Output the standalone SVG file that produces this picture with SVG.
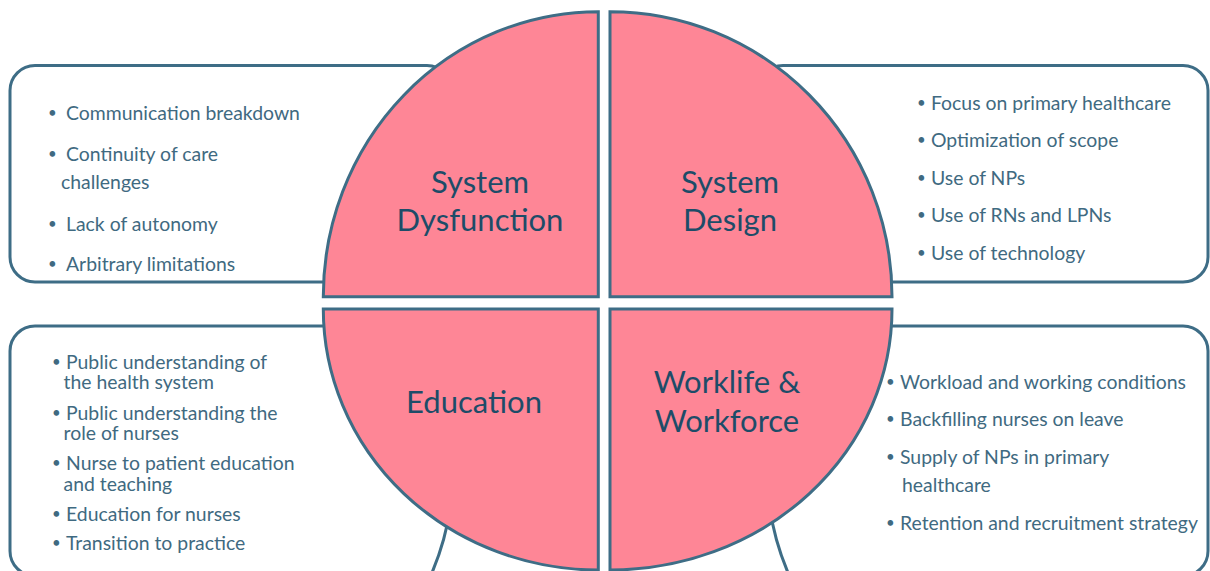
<svg xmlns="http://www.w3.org/2000/svg" width="1210" height="571" viewBox="0 0 1210 571">
  <style>
    .box { fill: #ffffff; stroke: #3e6d86; stroke-width: 3; }
    .quad { fill: #fe8696; stroke: #3e6d86; stroke-width: 3; stroke-linejoin: miter; }
    .title { font-family: Lato, "Liberation Sans", sans-serif; font-size: 31px; fill: #1d4c68; text-anchor: middle; }
    .item { font-family: Lato, "Liberation Sans", sans-serif; font-size: 19.4px; fill: #3f6a81; }
    .dot { font-family: Lato, "Liberation Sans", sans-serif; font-size: 15px; fill: #3f6a81; }
  </style>

  <!-- side panels, drawn first so the circle overlaps them -->
  <g id="panel-dysfunction">
    <rect class="box" x="10" y="65.5" width="442" height="216.5" rx="25" ry="25"/>
    <text class="dot" x="48" y="118">•</text>
    <text class="item" x="66" y="120">Communication breakdown</text>
    <text class="dot" x="48" y="159">•</text>
    <text class="item" x="66" y="161">Continuity of care</text>
    <text class="item" x="61" y="189">challenges</text>
    <text class="dot" x="48" y="229">•</text>
    <text class="item" x="66" y="231">Lack of autonomy</text>
    <text class="dot" x="48" y="269">•</text>
    <text class="item" x="66" y="271">Arbitrary limitations</text>
  </g>

  <g id="panel-design">
    <rect class="box" x="758" y="65.5" width="450" height="216.5" rx="25" ry="25"/>
    <text class="dot" x="917" y="107.5">•</text>
    <text class="item" x="931" y="109.5">Focus on primary healthcare</text>
    <text class="dot" x="917" y="145">•</text>
    <text class="item" x="931" y="147">Optimization of scope</text>
    <text class="dot" x="917" y="182.5">•</text>
    <text class="item" x="931" y="184.5">Use of NPs</text>
    <text class="dot" x="917" y="220">•</text>
    <text class="item" x="931" y="222">Use of RNs and LPNs</text>
    <text class="dot" x="917" y="257.5">•</text>
    <text class="item" x="931" y="259.5">Use of technology</text>
  </g>

  <g id="panel-education">
    <path class="box" d="M 10 351 A 25 25 0 0 1 35 326 H 452 V 470 Q 454 530 424 590 L 424 600 L 35 600 L 35 576 A 25 25 0 0 1 10 551 Z"/>
    <text class="dot" x="52" y="366.5">•</text>
    <text class="item" x="66" y="368.5">Public understanding of</text>
    <text class="item" x="63.5" y="389">the health system</text>
    <text class="dot" x="52" y="417.5">•</text>
    <text class="item" x="66" y="419.5">Public understanding the</text>
    <text class="item" x="63.5" y="439.5">role of nurses</text>
    <text class="dot" x="52" y="468">•</text>
    <text class="item" x="66" y="470">Nurse to patient education</text>
    <text class="item" x="63.5" y="490.5">and teaching</text>
    <text class="dot" x="52" y="518.5">•</text>
    <text class="item" x="66" y="520.5">Education for nurses</text>
    <text class="dot" x="52" y="547.5">•</text>
    <text class="item" x="66" y="549.5">Transition to practice</text>
  </g>

  <g id="panel-workforce">
    <path class="box" d="M 768 470 V 326 H 1183 A 25 25 0 0 1 1208 351 V 551 A 25 25 0 0 1 1183 576 L 1183 600 L 796 600 L 796 590 Q 766 530 768 470 Z"/>
    <text class="dot" x="886" y="386.5">•</text>
    <text class="item" x="900" y="388.5">Workload and working conditions</text>
    <text class="dot" x="886" y="424">•</text>
    <text class="item" x="900" y="426">Backfilling nurses on leave</text>
    <text class="dot" x="886" y="462">•</text>
    <text class="item" x="900" y="464">Supply of NPs in primary</text>
    <text class="item" x="902" y="492">healthcare</text>
    <text class="dot" x="886" y="527.5">•</text>
    <text class="item" x="900" y="529.5">Retention and recruitment strategy</text>
  </g>

  <!-- the four quarters of the central circle -->
  <g id="quad-dysfunction">
    <path class="quad" d="M 598.3 296.7 H 323.3 A 275 285 0 0 1 598.3 11.7 Z"/>
    <text class="title" x="480" y="192.7">System</text>
    <text class="title" x="480" y="230.7">Dysfunction</text>
  </g>

  <g id="quad-design">
    <path class="quad" d="M 610 296.7 V 11.7 A 282 285 0 0 1 892 296.7 Z"/>
    <text class="title" x="730" y="192.7">System</text>
    <text class="title" x="730" y="230.7">Design</text>
  </g>

  <g id="quad-education">
    <path class="quad" d="M 598.3 309 H 323.3 A 275 261 0 0 0 598.3 570 Z"/>
    <text class="title" x="474" y="412.7">Education</text>
  </g>

  <g id="quad-workforce">
    <path class="quad" d="M 610 309 H 892 A 282 261 0 0 1 610 570 Z"/>
    <text class="title" x="727" y="393.3">Worklife &amp;</text>
    <text class="title" x="727" y="431.7">Workforce</text>
  </g>
</svg>
